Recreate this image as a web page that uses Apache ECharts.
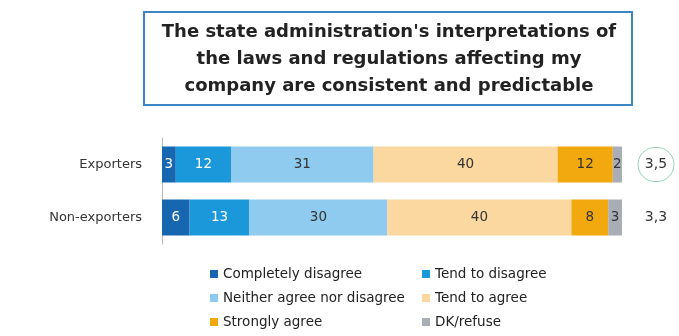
<!DOCTYPE html>
<html>
<head>
<meta charset="utf-8">
<script src="https://cdn.jsdelivr.net/npm/echarts@6/dist/echarts.min.js"></script>
<style>
    html, body { margin: 0; padding: 0; background: #fff; }
    #chart { width: 679px; height: 336px; }
</style>
</head>
<body>
<div id="chart"></div>
<script>
    var groups = ['Exporters', 'Non-exporters'];
    var answers = ['Completely disagree', 'Tend to disagree', 'Neither agree nor disagree', 'Tend to agree', 'Strongly agree', 'DK/refuse'];
    var completelyDisagree = [3, 6];
    var tendToDisagree = [12, 13];
    var neitherAgree = [31, 30];
    var tendToAgree = [40, 40];
    var stronglyAgree = [12, 8];
    var dkRefuse = [2, 3];
    var meanScore = ['3,5', '3,3'];

    var colors = ['#1666b0', '#1b98da', '#8ecbee', '#fad89f', '#f2a80f', '#a9adb5'];
    var labelColors = ['#fff', '#fff', '#333', '#333', '#333', '#333'];
    var font = '"DejaVu Sans", sans-serif';

    var chart = echarts.init(document.getElementById('chart'));

    var values = [completelyDisagree, tendToDisagree, neitherAgree, tendToAgree, stronglyAgree, dkRefuse];
    var series = answers.map(function (name, i) {
        return {
            name: name,
            type: 'bar',
            stack: 'total',
            barWidth: 36,
            itemStyle: { color: colors[i] },
            label: {
                show: true,
                position: 'inside',
                color: labelColors[i],
                fontFamily: font,
                fontSize: 13.5
            },
            data: values[i]
        };
    });

    // mean score shown to the right of each bar
    series.push({
        name: 'mean',
        type: 'bar',
        stack: 'total',
        barWidth: 36,
        itemStyle: { color: 'transparent' },
        data: [0, 0],
        label: {
            show: true,
            position: 'right',
            distance: 16,
            formatter: function (p) {
                return p.dataIndex === 0 ? '{c|' + meanScore[0] + '}' : '{n|' + meanScore[1] + '}';
            },
            rich: {
                c: {
                    width: 36, height: 34, align: 'center', lineHeight: 34,
                    borderColor: '#93d3b4', borderWidth: 1, borderRadius: 19,
                    color: '#333', fontFamily: font, fontSize: 14
                },
                n: {
                    width: 36, align: 'center',
                    color: '#333', fontFamily: font, fontSize: 14
                }
            }
        }
    });

    var legendStyle = {
        orient: 'vertical',
        top: 267,
        padding: 0,
        icon: 'rect',
        itemWidth: 8,
        itemHeight: 8,
        itemGap: 10,
        textStyle: { color: '#222', fontFamily: font, fontSize: 13.5, lineHeight: 14 }
    };

    var option = {
        animation: false,
        graphic: [
            {
                type: 'rect',
                shape: { x: 144, y: 12, width: 488, height: 93 },
                style: { fill: '#fff', stroke: '#3c86c6', lineWidth: 2 }
            },
            {
                type: 'text',
                x: 389,
                y: 19,
                style: {
                    text: "The state administration's interpretations of\nthe laws and regulations affecting my\ncompany are consistent and predictable",
                    align: 'center',
                    fill: '#222',
                    font: 'bold 18px "DejaVu Sans", sans-serif',
                    lineHeight: 27
                }
            }
        ],
        legend: [
            Object.assign({ left: 210, data: [answers[0], answers[2], answers[4]] }, legendStyle),
            Object.assign({ left: 422, data: [answers[1], answers[3], answers[5]] }, legendStyle)
        ],
        grid: { left: 162, right: 57, top: 138, height: 106 },
        xAxis: {
            type: 'value',
            min: 0,
            max: 100,
            show: false
        },
        yAxis: {
            type: 'category',
            inverse: true,
            data: groups,
            axisLine: { lineStyle: { color: '#b8b8b8' } },
            axisTick: { length: 3, lineStyle: { color: '#b8b8b8' } },
            axisLabel: { color: '#333', fontFamily: font, fontSize: 13, margin: 20 }
        },
        series: series
    };

    chart.setOption(option);
</script>
</body>
</html>
